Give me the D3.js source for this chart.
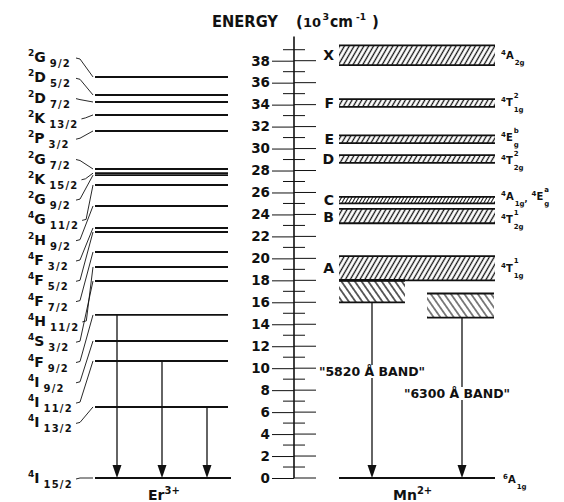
<!DOCTYPE html>
<html>
<head>
<meta charset="utf-8">
<script src="https://cdn.jsdelivr.net/npm/d3@7"></script>
<style>
  html, body { margin: 0; padding: 0; background: #fff; }
  svg { display: block; }
  text { font-family: "DejaVu Sans", sans-serif; font-weight: bold; fill: #111; }
</style>
</head>
<body>
<svg id="chart" width="564" height="502"></svg>
<script>
// ---- Energy axis (10^3 cm^-1) ----
const majorTicks = [0, 2, 4, 6, 8, 10, 12, 14, 16, 18, 20, 22, 24, 26, 28, 30, 32, 34, 36, 38];
const minorTicks = [1, 3, 5, 7, 9, 11, 13, 15, 17, 19, 21, 23, 25, 27, 29, 31, 33, 35, 37, 39];

// ---- Er3+ levels ----
const erLevels = [36.52, 34.88, 34.24, 33.06, 31.60, 28.14, 27.76, 27.58, 26.68, 24.77,
                  22.77, 22.40, 20.58, 19.22, 17.94, 14.85, 12.48, 10.66, 6.47, 0];
const erMult = ["2", "2", "2", "2", "2", "2", "2", "2", "4", "2",
                "4", "4", "4", "4", "4", "4", "4", "4", "4", "4"];
const erTerm = ["G", "D", "D", "K", "P", "G", "K", "G", "G", "H",
                "F", "F", "F", "H", "S", "F", "I", "I", "I", "I"];
const erJ = ["9/2", "5/2", "7/2", "13/2", "3/2", "7/2", "15/2", "9/2", "11/2", "9/2",
             "3/2", "5/2", "7/2", "11/2", "3/2", "9/2", "9/2", "11/2", "13/2", "15/2"];
// transitions drawn down to the ground state (indices into erLevels)
const erEmitFrom = [15, 17, 18];

// ---- Mn2+ absorption bands ----
const mnBandNames = ["X", "F", "E", "D", "C", "B", "A"];
const mnBandLow  = [37.6, 33.8, 30.5, 28.7, 25.0, 23.2, 18.0];
const mnBandHigh = [39.4, 34.5, 31.2, 29.4, 25.6, 24.5, 20.2];
// term symbols to the right of the bands
const mnTermBand = [0, 1, 2, 3, 4, 4, 5, 6];
const mnTermMult = ["4", "4", "4", "4", "4", "4", "4", "4"];
const mnTermLetter = ["A", "T", "E", "T", "A", "E", "T", "T"];
const mnTermSup = ["", "2", "b", "2", "", "a", "1", "1"];
const mnTermSub = ["2g", "1g", "g", "2g", "1g", "g", "2g", "1g"];
const mnGround = { mult: "6", letter: "A", sub: "1g" };

// ---- Mn2+ emission bands ----
const emitNames = ["\"5820 Å BAND\"", "\"6300 Å BAND\""];
const emitLow  = [16.0, 14.6];
const emitHigh = [18.0, 16.8];

// ---------------------------------------------------------------
const ink = "#111";
const svg = d3.select("#chart");
const y = d3.scaleLinear().domain([0, 38]).range([478, 60.7]);
const axisX = 294;

// hatch fills
const defs = svg.append("defs");
function hatch(id, spacing, angle, width) {
  const p = defs.append("pattern")
    .attr("id", id)
    .attr("patternUnits", "userSpaceOnUse")
    .attr("width", spacing).attr("height", 10)
    .attr("patternTransform", `rotate(${angle})`);
  p.append("line")
    .attr("x1", spacing / 2).attr("x2", spacing / 2)
    .attr("y1", 0).attr("y2", 10)
    .attr("stroke", ink).attr("stroke-width", width);
}
hatch("fwd", 4.2, 30, 1.3);
hatch("fine", 3.0, 30, 1.0);
hatch("back", 5.5, -35, 1.3);

// term symbol: pre-superscript multiplicity, letter, stacked sup/sub
function termLabel(g, x, yBase, mult, letter, sup, sub, s) {
  const t = g.append("text").attr("x", x).attr("y", yBase);
  t.append("tspan").text(mult).attr("font-size", s.pre).attr("dy", -s.preRaise);
  t.append("tspan").text(letter).attr("font-size", s.main).attr("dy", s.preRaise);
  const xs = x + t.node().getComputedTextLength() + s.gap;
  let end = xs;
  if (sup) {
    const ts = g.append("text").attr("x", xs).attr("y", yBase - s.supRaise)
      .attr("font-size", s.small).text(sup);
    end = Math.max(end, xs + ts.node().getComputedTextLength());
  }
  if (sub) {
    const tb = g.append("text").attr("x", xs).attr("y", yBase + s.subDrop)
      .attr("font-size", s.small).attr("letter-spacing", s.subSpacing || 0).text(sub);
    end = Math.max(end, xs + tb.node().getComputedTextLength());
  }
  return end;
}

// ---- title ----
const titleG = svg.append("g").attr("font-size", 15);
titleG.append("text").attr("x", 212).attr("y", 27)
  .attr("textLength", 66).attr("lengthAdjust", "spacingAndGlyphs").text("ENERGY");
titleG.append("text").attr("x", 296).attr("y", 27).text("(");
titleG.append("text").attr("x", 303).attr("y", 27).attr("font-size", 13).text("10");
titleG.append("text").attr("x", 322.5).attr("y", 20).attr("font-size", 9.5).text("3");
titleG.append("text").attr("x", 330).attr("y", 27)
  .attr("textLength", 23).attr("lengthAdjust", "spacingAndGlyphs").text("cm");
titleG.append("text").attr("x", 356).attr("y", 20).attr("font-size", 9).text("-1");
titleG.append("text").attr("x", 372).attr("y", 27).text(")");

// ---- axis ----
const axisG = svg.append("g").attr("transform", `translate(${axisX},0)`);
axisG.call(d3.axisLeft(y).tickValues(majorTicks).tickSize(22).tickPadding(2).tickSizeOuter(0));
axisG.select(".domain").remove();
axisG.selectAll(".tick line").attr("stroke", ink).attr("stroke-width", 1);
axisG.selectAll(".tick text")
  .attr("fill", ink).attr("font-size", 13.5)
  .attr("font-family", "DejaVu Sans, sans-serif").attr("font-weight", "bold");
axisG.append("line")
  .attr("x1", 0).attr("x2", 0)
  .attr("y1", y(0)).attr("y2", y(40.2))
  .attr("stroke", ink).attr("stroke-width", 1.6);
axisG.selectAll(".major-right").data(majorTicks).join("line")
  .attr("x1", 0).attr("x2", 22)
  .attr("y1", d => y(d)).attr("y2", d => y(d))
  .attr("stroke", ink).attr("stroke-width", 1);
axisG.selectAll(".minor").data(minorTicks).join("line")
  .attr("x1", -11).attr("x2", 11)
  .attr("y1", d => y(d)).attr("y2", d => y(d))
  .attr("stroke", ink).attr("stroke-width", 1);

// ---- Er3+ diagram ----
const er = svg.append("g");
const erX0 = 95, erX1 = 228;
er.selectAll("line.level").data(erLevels).join("line")
  .attr("x1", erX0).attr("x2", d => d === 0 ? 231 : erX1)
  .attr("y1", d => y(d)).attr("y2", d => y(d))
  .attr("stroke", ink).attr("stroke-width", d => d === 0 ? 2.2 : 1.9);

const erLabelSize = { pre: 9, main: 14, preRaise: 6, small: 10, gap: 4, supRaise: 7, subDrop: 5, subSpacing: 1.2 };
erLevels.forEach((lv, i) => {
  const last = i === erLevels.length - 1;
  const cy = last ? y(lv) : 57 + 20.3 * i;        // letter mid-height
  const end = termLabel(er, 28, cy + 5, erMult[i], erTerm[i], "", erJ[i], erLabelSize);
  const x0 = Math.max(end + 3, 76), y0 = cy + 1;
  const ly = y(lv);
  er.append("path")
    .attr("d", `M${x0},${y0} L${x0 + 4},${y0 + (ly > y0 ? 1 : -1)} L${erX0 - 2},${ly}`)
    .attr("fill", "none").attr("stroke", ink).attr("stroke-width", 0.9);
});

// arrows to ground state
function arrow(g, x, fromV, toV) {
  const yt = y(toV);
  g.append("line").attr("x1", x).attr("x2", x)
    .attr("y1", y(fromV)).attr("y2", yt - 12)
    .attr("stroke", ink).attr("stroke-width", 1.3);
  g.append("path")
    .attr("d", `M${x - 4.5},${yt - 13} L${x + 4.5},${yt - 13} L${x},${yt} Z`)
    .attr("fill", ink);
}
const erArrowX = [117, 162, 207];
erEmitFrom.forEach((idx, k) => arrow(er, erArrowX[k], erLevels[idx], 0));

const erName = er.append("text").attr("x", 148).attr("y", 500).attr("font-size", 14);
erName.append("tspan").text("Er");
erName.append("tspan").text("3+").attr("font-size", 10).attr("dy", -6);

// ---- Mn2+ diagram ----
const mn = svg.append("g");
const mnX0 = 339, mnX1 = 495;
// band letters; C and B sit close together, so their baselines are nudged apart
const letterShift = [5, 5, 5, 5, 4.5, 5.5, 5];
mnBandNames.forEach((name, i) => {
  const top = y(mnBandHigh[i]), bot = y(mnBandLow[i]);
  mn.append("rect").attr("x", mnX0).attr("y", top)
    .attr("width", mnX1 - mnX0).attr("height", bot - top)
    .attr("fill", name === "C" ? "url(#fine)" : "url(#fwd)");
  [top, bot].forEach(v => mn.append("line")
    .attr("x1", mnX0).attr("x2", mnX1).attr("y1", v).attr("y2", v)
    .attr("stroke", ink).attr("stroke-width", 1.8));
  mn.append("text").attr("x", 334).attr("y", (top + bot) / 2 + letterShift[i])
    .attr("text-anchor", "end").attr("font-size", 14).text(name);
});

const mnLabelSize = { pre: 7, main: 10, preRaise: 4, small: 7, gap: 1, supRaise: 8.5, subDrop: 6 };
const mnTermShift = [3.5, 3.5, 2, 5.5, 0, 0, 7, 3.5];
let cLabelEnd = 0;
mnTermBand.forEach((b, k) => {
  const mid = (y(mnBandHigh[b]) + y(mnBandLow[b])) / 2;
  const second = k > 0 && mnTermBand[k - 1] === b;
  const x = second ? cLabelEnd + 5 : 501;
  const base = mid + mnTermShift[k];
  const end = termLabel(mn, x, base, mnTermMult[k], mnTermLetter[k], mnTermSup[k], mnTermSub[k], mnLabelSize);
  if (!second && mnTermBand[k + 1] === b) {
    mn.append("text").attr("x", end).attr("y", base + 2).attr("font-size", 8).text(",");
    cLabelEnd = end + 2;
  }
});

// emission bands and transitions
const emitX = [[339, 405], [427, 494]];
const emitArrowX = [372, 462];
emitNames.forEach((name, i) => {
  const top = y(emitHigh[i]), bot = y(emitLow[i]);
  const [xa, xb] = emitX[i];
  mn.append("rect").attr("x", xa).attr("y", top)
    .attr("width", xb - xa).attr("height", bot - top)
    .attr("fill", "url(#back)").attr("opacity", i === 1 ? 0.8 : 1);
  [top, bot].forEach(v => mn.append("line")
    .attr("x1", xa).attr("x2", xb).attr("y1", v).attr("y2", v)
    .attr("stroke", ink).attr("stroke-width", i === 0 && v === top ? 2.6 : 1.8));
  arrow(mn, emitArrowX[i], emitLow[i], 0);
});
mn.append("line").attr("x1", mnX0).attr("x2", mnX1)
  .attr("y1", y(0)).attr("y2", y(0))
  .attr("stroke", ink).attr("stroke-width", 2.2);
termLabel(mn, 503, y(0) + 5, mnGround.mult, mnGround.letter, "", mnGround.sub, mnLabelSize);

// band captions (white backing so the arrow breaks behind the text)
const capPos = [[372, 376], [457, 398]];
emitNames.forEach((name, i) => {
  const t = mn.append("text").attr("x", capPos[i][0]).attr("y", capPos[i][1])
    .attr("text-anchor", "middle").attr("font-size", 12.5).text(name);
  const bb = t.node().getBBox();
  mn.insert("rect", () => t.node())
    .attr("x", bb.x - 1).attr("y", bb.y + 1).attr("width", bb.width + 2).attr("height", bb.height - 2)
    .attr("fill", "#fff");
});

const mnName = mn.append("text").attr("x", 393).attr("y", 500).attr("font-size", 14);
mnName.append("tspan").text("Mn");
mnName.append("tspan").text("2+").attr("font-size", 10).attr("dy", -6);
</script>
</body>
</html>
